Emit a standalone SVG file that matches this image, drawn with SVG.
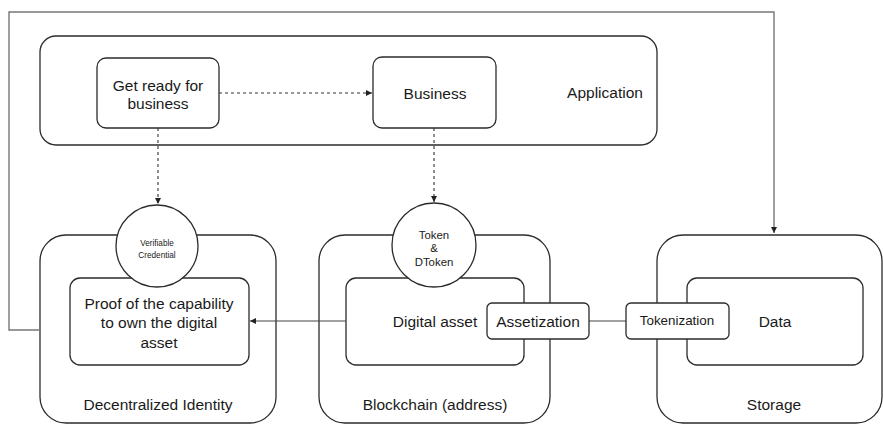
<svg xmlns="http://www.w3.org/2000/svg" width="883" height="424" viewBox="0 0 883 424">
<style>
.box{fill:#fff;stroke:#2b2b2b;stroke-width:1.3}
.t{font-family:"Liberation Sans",Arial,sans-serif;fill:#1a1a1a;text-anchor:middle;dominant-baseline:central}
.dash{fill:none;stroke:#333;stroke-width:1.1;stroke-dasharray:3 3}
.solid{fill:none;stroke:#444;stroke-width:1.1}
.outer{fill:none;stroke:#777;stroke-width:1.4}
</style>
<defs>
<marker id="ah" markerWidth="8" markerHeight="8" refX="7" refY="4" orient="auto" markerUnits="userSpaceOnUse">
<path d="M1,1 L7,4 L1,7 Z" fill="#222"/>
</marker>
</defs>
<g id="application">
<rect class="box" x="40" y="36" width="617" height="109" rx="16"/>
<text class="t" x="605" y="92" font-size="15.5">Application</text>
</g>
<g id="get-ready">
<rect class="box" x="97" y="58" width="122" height="70" rx="9"/>
<text class="t" x="158" y="85" font-size="15.5">Get ready for</text>
<text class="t" x="158" y="103" font-size="15.5">business</text>
</g>
<g id="business">
<rect class="box" x="373" y="57" width="123" height="71" rx="9"/>
<text class="t" x="435" y="93" font-size="15.5">Business</text>
</g>
<g id="decentralized-identity">
<rect class="box" x="40" y="235" width="236" height="188" rx="26"/>
<text class="t" x="158" y="404" font-size="15.5">Decentralized Identity</text>
</g>
<g id="blockchain">
<rect class="box" x="319" y="235" width="231" height="188" rx="26"/>
<text class="t" x="435" y="404" font-size="15.5">Blockchain (address)</text>
</g>
<g id="storage">
<rect class="box" x="657" y="235" width="225" height="188" rx="26"/>
<text class="t" x="774" y="404" font-size="15.5">Storage</text>
</g>
<g id="proof">
<rect class="box" x="70" y="278" width="179" height="87" rx="10"/>
<text class="t" x="159" y="303" font-size="15.5">Proof of the capability</text>
<text class="t" x="159" y="322" font-size="15.5">to own the digital</text>
<text class="t" x="159" y="342" font-size="15.5">asset</text>
</g>
<g id="digital-asset">
<rect class="box" x="346" y="278" width="178" height="87" rx="10"/>
<text class="t" x="435" y="321" font-size="15.5">Digital asset</text>
</g>
<g id="data">
<rect class="box" x="687" y="278" width="176" height="87" rx="10"/>
<text class="t" x="775" y="321" font-size="15.5">Data</text>
</g>
<g id="verifiable-credential">
<circle class="box" cx="157" cy="246" r="41"/>
<text class="t" x="157" y="243" font-size="8.2">Verifiable</text>
<text class="t" x="157" y="255" font-size="8.2">Credential</text>
</g>
<g id="token">
<circle class="box" cx="434" cy="245" r="42"/>
<text class="t" x="434" y="235" font-size="11.4">Token</text>
<text class="t" x="434" y="248" font-size="11.4">&amp;</text>
<text class="t" x="434" y="262" font-size="11.4">DToken</text>
</g>
<g id="connectors">
<path class="dash" d="M219,93 H372" marker-end="url(#ah)"/>
<path class="dash" d="M158,128 V204" marker-end="url(#ah)"/>
<path class="dash" d="M434,128 V202" marker-end="url(#ah)"/>
<path class="solid" d="M346,321 H250" marker-end="url(#ah)"/>
<path class="solid" d="M589,321 H626"/>
<path class="outer" d="M40,330 H9 V12 H774 V233" marker-end="url(#ah)"/>
</g>
<g id="assetization">
<rect class="box" x="487" y="303" width="102" height="36" rx="5"/>
<text class="t" x="538" y="321" font-size="15.5">Assetization</text>
</g>
<g id="tokenization">
<rect class="box" x="626" y="303" width="103" height="36" rx="5"/>
<text class="t" x="677" y="320" font-size="13.4">Tokenization</text>
</g>
</svg>
